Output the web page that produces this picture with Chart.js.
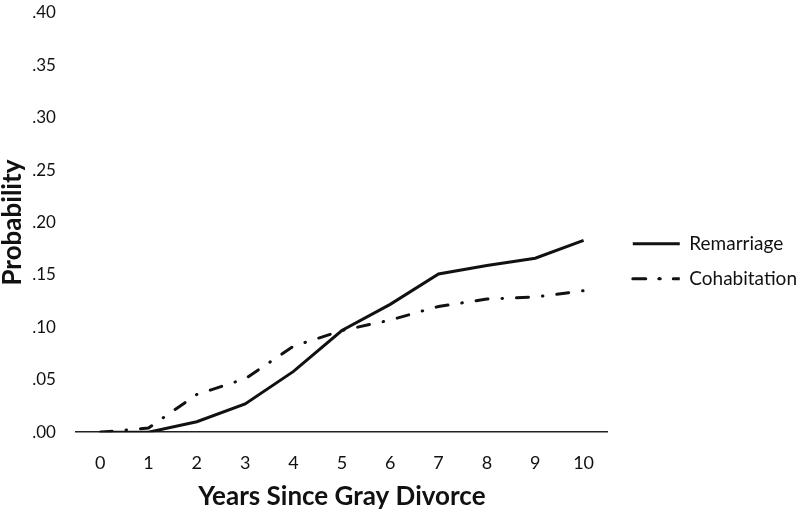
<!DOCTYPE html>
<html>
<head>
<meta charset="utf-8">
<script src="https://cdn.jsdelivr.net/npm/chart.js@4"></script>
<style>
html,body{margin:0;padding:0;background:#fff;}
#wrap{width:800px;height:512px;}
</style>
</head>
<body>
<div id="wrap"><canvas id="probChart" width="800" height="512"></canvas></div>
<script>
// data
const years=["0","1","2","3","4","5","6","7","8","9","10"];
const remarriage=[0,0,0.010,0.027,0.058,0.097,0.122,0.151,0.159,0.166,0.183];
const cohabitation=[0,0.004,0.036,0.051,0.082,0.097,0.107,0.120,0.127,0.129,0.135];
const yMin=0, yMax=0.40, yStep=0.05;

const fontName="Lato, 'Open Sans', sans-serif";
const ink="#111111";

// nudge the legend a bit to the right, like in the original figure
const legendNudge={
  id:'legendNudge',
  afterLayout(chart){
    if(chart.legend){chart.legend.left+=9;chart.legend.right+=9;}
  }
};

const ctx=document.getElementById('probChart').getContext('2d');

new Chart(ctx,{
  type:'line',
  data:{
    labels:years,
    datasets:[
      {
        label:'Remarriage',
        data:remarriage,
        borderColor:ink,
        backgroundColor:ink,
        borderWidth:3,
        pointRadius:0,
        tension:0
      },
      {
        label:'Cohabitation',
        data:cohabitation,
        borderColor:ink,
        backgroundColor:ink,
        borderWidth:3,
        borderDash:[12,14,0.5,14],
        borderCapStyle:'round',
        pointRadius:0,
        tension:0
      }
    ]
  },
  plugins:[legendNudge],
  options:{
    responsive:false,
    animation:false,
    layout:{padding:{top:0,left:0,right:2,bottom:0}},
    plugins:{
      tooltip:{enabled:false},
      legend:{
        position:'right',
        title:{display:true,text:'',font:{size:12},padding:{top:0,bottom:-4}},
        labels:{
          boxWidth:47,
          boxHeight:0,
          padding:16,
          color:ink,
          font:{family:fontName,size:19}
        }
      }
    },
    scales:{
      x:{
        offset:true,
        grid:{display:false,drawTicks:false},
        border:{display:true,color:'#222',width:1.5},
        ticks:{color:ink,padding:20,font:{family:fontName,size:18}},
        title:{display:true,text:'Years Since Gray Divorce',color:ink,
          font:{family:fontName,size:26,weight:'bold'},padding:{top:-13,bottom:0}}
      },
      y:{
        min:yMin,max:yMax,
        grid:{display:false,drawTicks:false},
        border:{display:false},
        afterFit:function(scale){scale.paddingTop=13;},
        ticks:{
          stepSize:yStep,color:ink,padding:20,
          font:{family:fontName,size:17},
          callback:function(v){return v.toFixed(2).replace(/^0/,'');}
        },
        title:{display:true,text:'Probability',color:ink,
          font:{family:fontName,size:26,weight:'bold'},padding:{top:-3,bottom:-16}}
      }
    }
  }
});
</script>
</body>
</html>
